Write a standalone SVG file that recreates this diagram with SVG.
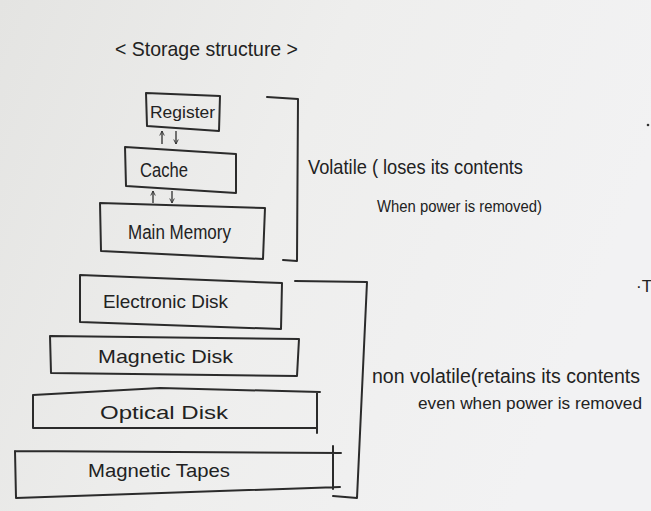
<svg xmlns="http://www.w3.org/2000/svg" width="651" height="511" viewBox="0 0 651 511">
<defs>
<linearGradient id="paper" x1="0" y1="0" x2="1" y2="0.3">
<stop offset="0" stop-color="#e4e4e2"/>
<stop offset="0.5" stop-color="#eeeeed"/>
<stop offset="1" stop-color="#f2f2f3"/>
</linearGradient>
<marker id="ah" viewBox="0 0 8 8" refX="7" refY="4" markerWidth="6" markerHeight="6" orient="auto-start-reverse" markerUnits="userSpaceOnUse">
<path d="M1,1 L7,4 L1,7" fill="none" stroke="#2e2e2e" stroke-width="1.2"/>
</marker>
</defs>
<style>
.ln{fill:none;stroke:#2b2b2b;stroke-width:2;stroke-linecap:round;stroke-linejoin:round}
.ar{fill:none;stroke:#2e2e2e;stroke-width:1.3}
.t{font-family:"Liberation Sans",Arial,sans-serif;fill:#222}
</style>
<rect x="0" y="0" width="651" height="511" fill="url(#paper)"/>

<text class="t" x="115" y="56" font-size="21" textLength="183" lengthAdjust="spacingAndGlyphs">&lt; Storage  structure &gt;</text>

<g id="register">
<path class="ln" d="M146,93 L220,96 L219,131 L147,126 Z"/>
<text class="t" x="150" y="118" font-size="16" textLength="65" lengthAdjust="spacingAndGlyphs">Register</text>
</g>
<g id="cache">
<path class="ln" d="M125,147 L236,154 L236,193 L126,186 Z"/>
<text class="t" x="140" y="177" font-size="20" textLength="48" lengthAdjust="spacingAndGlyphs">Cache</text>
</g>
<g id="main-memory">
<path class="ln" d="M100,203 L265,208 L263,259 L101,251 Z"/>
<text class="t" x="128" y="239" font-size="20" textLength="103" lengthAdjust="spacingAndGlyphs">Main Memory</text>
</g>
<g id="electronic-disk">
<path class="ln" d="M80,275 L282,283 L281,329 L80,322 Z"/>
<text class="t" x="103" y="308" font-size="19" textLength="125" lengthAdjust="spacingAndGlyphs">Electronic  Disk</text>
</g>
<g id="magnetic-disk">
<path class="ln" d="M50,336 L299,339 L297,376 L51,373 Z"/>
<text class="t" x="98" y="363" font-size="19" textLength="135" lengthAdjust="spacingAndGlyphs">Magnetic   Disk</text>
</g>
<g id="optical-disk">
<path class="ln" d="M33,395 L160,388 L320,392 M317,392 L317,433 M317,428 L33,428 L33,395"/>
<text class="t" x="100" y="419" font-size="19" textLength="128" lengthAdjust="spacingAndGlyphs">Optical    Disk</text>
</g>
<g id="magnetic-tapes">
<path class="ln" d="M15,451 L341,453 M333,446 L333,489 M340,487 L16,498 L15,451"/>
<text class="t" x="88" y="477" font-size="19" textLength="142" lengthAdjust="spacingAndGlyphs">Magnetic    Tapes</text>
</g>

<g id="connectors">
<line class="ar" x1="162" y1="144" x2="162" y2="131" marker-end="url(#ah)"/>
<line class="ar" x1="176" y1="131" x2="176" y2="144" marker-end="url(#ah)"/>
<line class="ar" x1="153" y1="203" x2="153" y2="191" marker-end="url(#ah)"/>
<line class="ar" x1="172" y1="191" x2="172" y2="203" marker-end="url(#ah)"/>
<path class="ln" d="M267,97 L298,99 L297,261 L283,260"/>
<path class="ln" d="M295,281 L367,282 L357,498 L333,496"/>
</g>

<g id="labels">
<text class="t" x="308" y="174" font-size="21" textLength="215" lengthAdjust="spacingAndGlyphs">Volatile ( loses its  contents</text>
<text class="t" x="377" y="212" font-size="16" textLength="165" lengthAdjust="spacingAndGlyphs">When power  is removed)</text>
<text class="t" x="372" y="383" font-size="19.5" textLength="268" lengthAdjust="spacingAndGlyphs">non volatile(retains its contents</text>
<text class="t" x="418" y="409" font-size="17" textLength="224" lengthAdjust="spacingAndGlyphs">even when power  is removed</text>
<text class="t" x="636" y="292" font-size="17">·T</text>
<circle cx="648" cy="125" r="1.3" fill="#333"/>
</g>
</svg>
